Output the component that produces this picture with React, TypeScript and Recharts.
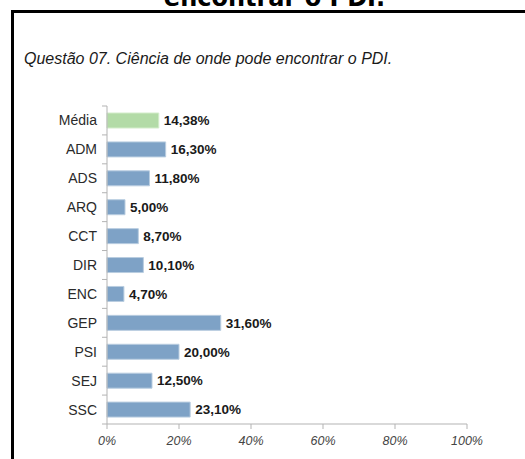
import React from "react";
import { BarChart, Bar, XAxis, YAxis, Cell, LabelList } from "recharts";

const categories = ["Média", "ADM", "ADS", "ARQ", "CCT", "DIR", "ENC", "GEP", "PSI", "SEJ", "SSC"];
const values = [14.38, 16.3, 11.8, 5.0, 8.7, 10.1, 4.7, 31.6, 20.0, 12.5, 23.1];
const xTicks = [0, 20, 40, 60, 80, 100];
const pageTitle = "encontrar o PDI.";
const chartTitle = "Questão 07. Ciência de onde pode encontrar o PDI.";

const data = categories.map((name, i) => ({ name, value: values[i] }));

const W = 525;
const H = 459;
const TOP = 106;
const BOTTOM_AXIS = 35;
const LEFT_AXIS = 107;
const RIGHT = 58;
const plotH = H - TOP - BOTTOM_AXIS;
const band = plotH / categories.length;

const fmt = (v: number) => v.toFixed(2).replace(".", ",") + "%";

const YTick = (props: any) => {
  const { y, payload, index } = props;
  const axisX = LEFT_AXIS;
  const isLast = index === categories.length - 1;
  return (
    <g>
      <line x1={axisX - 5} x2={axisX} y1={y - band / 2} y2={y - band / 2} stroke="#b3b3b3" strokeWidth={1} />
      {isLast && (
        <line x1={axisX - 5} x2={axisX} y1={y + band / 2} y2={y + band / 2} stroke="#b3b3b3" strokeWidth={1} />
      )}
      <text
        x={axisX - 10}
        y={y}
        dy={5}
        textAnchor="end"
        fontFamily="'Liberation Sans', Arial, sans-serif"
        fontSize={14}
        fill="#2a2a2a"
      >
        {payload.value}
      </text>
    </g>
  );
};

export default function App() {
  return (
    <div style={{ position: "relative", width: W, height: H, overflow: "hidden", background: "#ffffff" }}>
      <style>{`body{margin:0;}`}</style>
      <div
        style={{
          position: "absolute",
          left: 0,
          width: W,
          top: -16,
          textAlign: "center",
          fontFamily: "'DejaVu Sans', sans-serif",
          fontWeight: "bold",
          fontSize: 24,
          lineHeight: "28px",
          color: "#000",
          paddingLeft: 24,
          boxSizing: "border-box",
          whiteSpace: "nowrap",
        }}
      >
        {pageTitle}
      </div>
      <div
        style={{
          position: "absolute",
          left: 11,
          top: 10,
          width: 700,
          height: 600,
          borderLeft: "3px solid #000",
          borderTop: "3px solid #000",
        }}
      />
      <div
        style={{
          position: "absolute",
          left: 24,
          top: 50,
          fontFamily: "'Liberation Sans', Arial, sans-serif",
          fontStyle: "italic",
          fontSize: 16,
          color: "#1a1a1a",
          whiteSpace: "nowrap",
        }}
      >
        {chartTitle}
      </div>
      <div style={{ position: "absolute", left: 0, top: 0 }}>
        <BarChart
          width={W}
          height={H}
          data={data}
          layout="vertical"
          margin={{ top: TOP, right: RIGHT, bottom: 0, left: 0 }}
        >
          <XAxis
            type="number"
            domain={[0, 100]}
            ticks={xTicks}
            tickFormatter={(v: number) => `${v}%`}
            height={BOTTOM_AXIS}
            stroke="#b3b3b3"
            tickSize={5}
            tickMargin={7}
            tickLine={{ stroke: "#b3b3b3" }}
            tick={{ fill: "#444444", fontSize: 12.5, fontStyle: "italic", fontFamily: "'Liberation Sans', Arial, sans-serif" }}
            interval={0}
          />
          <YAxis
            type="category"
            dataKey="name"
            width={LEFT_AXIS}
            stroke="#b3b3b3"
            tickLine={false}
            tick={<YTick />}
            interval={0}
          />
          <Bar dataKey="value" isAnimationActive={false} barSize={15} strokeWidth={1}>
            {data.map((d, i) => (
              <Cell key={d.name} fill={i === 0 ? "#b3dba7" : "#7ea2c6"} stroke={i === 0 ? "#d3ecca" : "#b9cde0"} />
            ))}
            <LabelList
              dataKey="value"
              position="right"
              offset={5}
              formatter={(v: any) => fmt(Number(v))}
              style={{ fontWeight: "bold", fontSize: 13.5, fill: "#1a1a1a", fontFamily: "'Liberation Sans', Arial, sans-serif" }}
            />
          </Bar>
        </BarChart>
      </div>
    </div>
  );
}
